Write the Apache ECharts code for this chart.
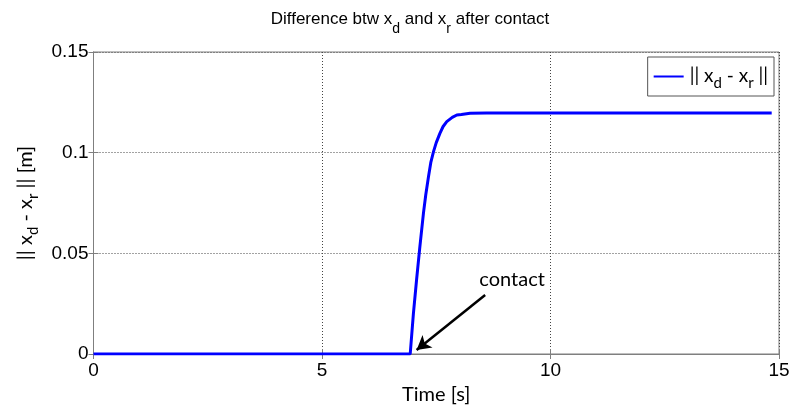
<!DOCTYPE html>
<html>
<head>
<meta charset="utf-8">
<script src="https://cdn.jsdelivr.net/npm/echarts@6/dist/echarts.min.js"></script>
<style>
  html, body { margin: 0; padding: 0; background: #fff; }
  #chart { width: 793px; height: 406px; }
</style>
</head>
<body>
<div id="chart"></div>
<script>
// Time samples [s] and the norm ||x_d - x_r|| [m]
const timeS = [0, 6.93, 7.0, 7.07, 7.14, 7.22, 7.27, 7.33, 7.38, 7.44, 7.5, 7.58, 7.65, 7.73, 7.85, 7.95, 8.05, 8.24, 8.6, 14.84];
const diffM = [0, 0, 0.020, 0.037, 0.053, 0.070, 0.079, 0.088, 0.095, 0.1005, 0.105, 0.1096, 0.113, 0.1154, 0.1175, 0.1187, 0.119, 0.1196, 0.1197, 0.1197];

// Axis ticks
const xTicks = [0, 5, 10, 15];
const yTicks = [0, 0.05, 0.1, 0.15];

// Annotation: arrow from the text towards the contact instant
const arrowTail = [8.57, 0.0293];
const arrowHead = [7.07, 0.002];
const contactLabelAt = [9.16, 0.0368];

const points = timeS.map((t, i) => [t, diffM[i]]);

const tickFont = 'Liberation Sans, Arial, sans-serif';
const labelFont = 'Lato, Open Sans, sans-serif';
const frame = '#7f7f7f';

// Rich styles: normal text and a dropped subscript
function subStyles(family, size, subSize, drop) {
  return {
    n: { fontFamily: family, fontSize: size, fontWeight: 'normal', color: '#000', verticalAlign: 'top', lineHeight: size + 2 },
    s: { fontFamily: family, fontSize: subSize, fontWeight: 'normal', color: '#000', verticalAlign: 'top', lineHeight: subSize + 2, padding: [drop, 0, 0, 0] }
  };
}

const chart = echarts.init(document.getElementById('chart'), null, { renderer: 'canvas' });

const baseX = {
  type: 'value', min: xTicks[0], max: xTicks[xTicks.length - 1], interval: 5
};
const baseY = {
  type: 'value', min: yTicks[0], max: yTicks[yTicks.length - 1], interval: 0.05
};

chart.setOption({
  animation: false,
  backgroundColor: '#fff',
  title: {
    text: '{n|Difference btw x}{s|d}{n| and x}{s|r}{n| after contact}',
    left: 410, top: 11, textAlign: 'center', padding: 0,
    textStyle: { fontWeight: 'normal', rich: subStyles(tickFont, 17, 14, 11) }
  },
  grid: {
    left: 93.5, right: 14, top: 52, bottom: 52,
    outerBoundsMode: 'none', containLabel: false,
    show: true, borderColor: frame, borderWidth: 1, backgroundColor: '#fff'
  },
  legend: {
    right: 19, top: 57,
    orient: 'vertical',
    itemWidth: 30, itemHeight: 10, itemGap: 0,
    borderColor: '#555', borderWidth: 1, padding: [9, 6, 5, 6],
    backgroundColor: '#fff',
    icon: 'path://M0,4 L30,4 L30,6 L0,6 Z',
    formatter: () => '{n||| x}{s|d}{n| - x}{s|r}{n| ||}',
    textStyle: { rich: subStyles(labelFont, 19, 15, 10), padding: [0, 0, 0, 1] },
    data: ['diff']
  },
  xAxis: [
    Object.assign({}, baseX, {
      position: 'bottom',
      name: 'Time [s]', nameLocation: 'middle', nameGap: 30,
      nameTextStyle: { fontFamily: labelFont, fontSize: 20, color: '#000' },
      axisLine: { lineStyle: { color: frame } },
      axisTick: { inside: true, length: 5, lineStyle: { color: frame } },
      axisLabel: { fontFamily: tickFont, fontSize: 19, color: '#000', margin: 7 },
      splitLine: { show: true, lineStyle: { color: '#444', type: [1, 2], width: 1 } }
    }),
    Object.assign({}, baseX, {
      position: 'top',
      axisLine: { lineStyle: { color: frame } },
      axisTick: { inside: true, length: 5, lineStyle: { color: frame } },
      axisLabel: { show: false },
      splitLine: { show: false }
    })
  ],
  yAxis: [
    Object.assign({}, baseY, {
      position: 'left',
      name: '{n||| x}{s|d}{n| - x}{s|r}{n| || [m]}',
      nameLocation: 'middle', nameGap: 47, nameRotate: 90,
      nameTextStyle: { rich: subStyles(labelFont, 20, 15, 10) },
      axisLine: { lineStyle: { color: frame } },
      axisTick: { inside: true, length: 5, lineStyle: { color: frame } },
      axisLabel: { fontFamily: tickFont, fontSize: 19, color: '#000', margin: 5 },
      splitLine: { show: true, lineStyle: { color: '#444', type: [1, 2], width: 1 } }
    }),
    Object.assign({}, baseY, {
      position: 'right',
      axisLine: { show: true, lineStyle: { color: frame } },
      axisTick: { show: true, inside: true, length: 5, lineStyle: { color: frame } },
      axisLabel: { show: false },
      splitLine: { show: false }
    })
  ],
  series: [
    {
      name: 'diff',
      type: 'line',
      data: points,
      showSymbol: false,
      lineStyle: { color: '#0000ff', width: 3 },
      itemStyle: { color: '#0000ff' },
      z: 3,
      markLine: {
        silent: true,
        symbol: ['none', 'arrow'],
        symbolSize: [12, 14],
        lineStyle: { color: '#000', width: 2.5, type: 'solid' },
        label: { show: false },
        data: [[{ coord: arrowTail }, { coord: arrowHead }]]
      },
      markPoint: {
        silent: true,
        symbol: 'circle', symbolSize: 0,
        label: {
          show: true, position: 'inside',
          formatter: 'contact',
          fontFamily: labelFont, fontSize: 20, color: '#000'
        },
        data: [{ coord: contactLabelAt }]
      }
    }
  ]
});
</script>
</body>
</html>
